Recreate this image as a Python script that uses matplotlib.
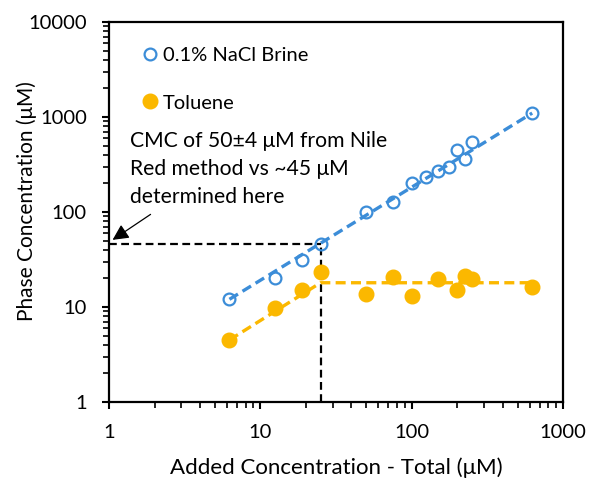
import matplotlib
matplotlib.use("Agg")
import matplotlib.pyplot as plt
import numpy as np
from matplotlib.lines import Line2D

plt.rcParams['font.family'] = ['Lato', 'DejaVu Sans']

# Data
brine_x = [6.25, 12.5, 18.75, 25, 50, 75, 100, 125, 150, 175, 200, 225, 250, 625]
brine_y = [12, 20, 31, 46, 100, 128, 200, 232, 268, 295, 450, 360, 540, 1100]
tol_x = [6.25, 12.5, 18.75, 25, 50, 75, 100, 150, 200, 225, 250, 625]
tol_y = [4.5, 9.7, 15, 23.3, 13.7, 20.7, 13.1, 19.7, 15.1, 21.2, 19.6, 16.2]

# Fitted trend lines
brine_fit_a, brine_fit_b = 2.0, 0.98
tol_cmc = 25
tol_plateau = 18
tol_fit_x = [6.25, 25, 625]

cmc_x, cmc_y = 25, 46

blue = '#3C8DD8'
gold = '#FBB800'
fs = 14.5

fig = plt.figure(figsize=(5.89, 4.78), dpi=100)
ax = fig.add_axes([0.185, 0.159, 0.771, 0.795])

ax.set_xscale('log')
ax.set_yscale('log')
ax.set_xlim(1, 1000)
ax.set_ylim(1, 10000)

# Trend lines
fx = np.array([brine_x[0], brine_x[-1]])
ax.plot(fx, brine_fit_a * fx ** brine_fit_b, color=blue, lw=2.4, ls=(0, (3, 1.6)), zorder=2)
tfy = [tol_plateau * tol_fit_x[0] / tol_cmc, tol_plateau, tol_plateau]
ax.plot(tol_fit_x, tfy, color=gold, lw=2.4, ls=(0, (3, 1.6)), zorder=2)

# CMC guide lines
ax.plot([1, cmc_x], [cmc_y, cmc_y], color='black', lw=1.6, ls=(0, (3.5, 2)), zorder=1)
ax.plot([cmc_x, cmc_x], [1, cmc_y], color='black', lw=1.6, ls=(0, (3.5, 2)), zorder=1)

# Data points
ax.plot(brine_x, brine_y, 'o', mfc='none', mec=blue, mew=1.6, ms=8.5, zorder=3)
ax.plot(tol_x, tol_y, 'o', color=gold, ms=10.5, zorder=3)

# Annotation
ax.annotate('', xy=(1.02, 49), xytext=(1.95, 98),
            arrowprops=dict(arrowstyle='-|>', color='black', lw=0.9, mutation_scale=24))
ax.text(1.38, 720, 'CMC of 50±4 μM from Nile\nRed method vs ~45 μM\ndetermined here',
        fontsize=15.2, va='top', ha='left', linespacing=1.5)

# Legend
handles = [Line2D([], [], marker='o', ls='none', mfc='none', mec=blue, mew=1.6, ms=8.5),
           Line2D([], [], marker='o', ls='none', color=gold, ms=10.5)]
ax.legend(handles, ['0.1% NaCl Brine', 'Toluene'], loc='upper left', frameon=False,
          fontsize=fs, labelspacing=1.5, handletextpad=0.05, handlelength=1.2,
          borderaxespad=0.0, bbox_to_anchor=(0.045, 0.955))

ax.set_xticks([1, 10, 100, 1000])
ax.set_xticklabels(['1', '10', '100', '1000'])
ax.set_yticks([1, 10, 100, 1000, 10000])
ax.set_yticklabels(['1', '10', '100', '1000', '10000'])
ax.tick_params(axis='both', which='major', direction='out', length=5, width=1.5, labelsize=fs, pad=11)
ax.tick_params(axis='both', which='minor', direction='out', length=4, width=1.2)
for s in ax.spines.values():
    s.set_linewidth(1.6)

ax.set_xlabel('Added Concentration - Total (μM)', fontsize=16)
ax.set_ylabel('Phase Concentration (μM)', fontsize=15)
ax.xaxis.set_label_coords(0.5, -0.145)
ax.yaxis.set_label_coords(-0.158, 0.53)

fig.savefig('out.png', dpi=100)
